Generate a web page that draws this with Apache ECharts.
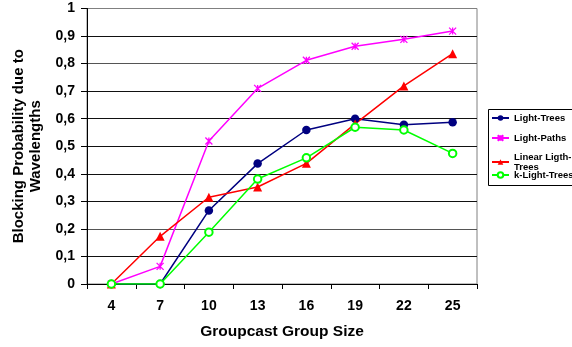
<!DOCTYPE html>
<html>
<head>
<meta charset="utf-8">
<script src="https://cdn.jsdelivr.net/npm/echarts@6/dist/echarts.min.js"></script>
<style>
  html, body { margin: 0; padding: 0; background: #fff; }
  #chart { width: 572px; height: 347px; }
</style>
</head>
<body>
<div id="chart"></div>
<script>
// Group sizes on the x axis
const groupSizes = ['4', '7', '10', '13', '16', '19', '22', '25'];

// Blocking probability per algorithm
const lightTrees = [0, 0, 0.267, 0.437, 0.559, 0.600, 0.578, 0.587];
const lightPaths = [0, 0.064, 0.519, 0.710, 0.812, 0.863, 0.888, 0.918];
const linearLightTrees = [0, 0.173, 0.315, 0.352, 0.438, 0.581, 0.719, 0.836];
const kLightTrees = [0, 0, 0.188, 0.381, 0.458, 0.569, 0.559, 0.474];

const FONT = '"Liberation Sans", Arial, sans-serif';
const starPath = 'path://M0,0L10,10M10,0L0,10M5,0L5,10';

const chart = echarts.init(document.getElementById('chart'), null, { renderer: 'canvas' });

const legendText = { fontFamily: FONT, fontWeight: 'bold', fontSize: 9.5, color: '#000', lineHeight: 10 };
const legendBase = {
  orient: 'vertical', left: 491, itemWidth: 17, itemHeight: 7, itemGap: 10,
  textStyle: legendText, selectedMode: false, padding: 0
};

chart.setOption({
  animation: false,
  backgroundColor: '#fff',
  grid: {
    left: 87, right: 95, top: 8.5, bottom: 63,
    outerBoundsMode: 'none',
    show: true, borderColor: '#808080', borderWidth: 1, backgroundColor: '#fff'
  },
  legend: [
    Object.assign({}, legendBase, { top: 113, data: ['Light-Trees', 'Light-Paths'] }),
    Object.assign({}, legendBase, {
      top: 147, data: ['Linear Ligth-Trees'],
      formatter: () => 'Linear Ligth-\nTrees',
      textStyle: Object.assign({}, legendText, { padding: [10, 0, 0, 0] })
    }),
    Object.assign({}, legendBase, { top: 170, data: ['k-Light-Trees'] })
  ],
  graphic: [{
    type: 'rect', left: 488, top: 109, z: 0,
    shape: { width: 90, height: 76 },
    style: { fill: '#fff', stroke: '#000', lineWidth: 1 }
  }],
  xAxis: {
    type: 'category',
    data: groupSizes,
    boundaryGap: true,
    name: 'Groupcast Group Size',
    nameLocation: 'middle',
    nameGap: 40,
    nameTextStyle: { fontFamily: FONT, fontWeight: 'bold', fontSize: 15.5, color: '#000' },
    axisLine: { lineStyle: { color: '#000', width: 1 } },
    axisTick: { show: true, length: 5, lineStyle: { color: '#000' } },
    axisLabel: { margin: 15, fontFamily: FONT, fontWeight: 'bold', fontSize: 14, color: '#000' },
    splitLine: { show: false }
  },
  yAxis: {
    type: 'value',
    min: 0, max: 1, interval: 0.1,
    name: 'Blocking Probability due to\nWavelengths',
    nameLocation: 'middle',
    nameRotate: 90,
    nameGap: 41,
    nameTextStyle: { fontFamily: FONT, fontWeight: 'bold', fontSize: 15, lineHeight: 17, color: '#000' },
    axisLine: { show: true, lineStyle: { color: '#000', width: 1 } },
    axisTick: { show: true, length: 6, inside: false, lineStyle: { color: '#000' } },
    axisLabel: {
      margin: 12, fontFamily: FONT, fontWeight: 'bold', fontSize: 14, color: '#000',
      formatter: v => String(+v.toFixed(1)).replace('.', ',')
    },
    splitLine: {
      show: true,
      lineStyle: { color: ['#000', '#111', '#555', '#111', '#111', '#111', '#111', '#111', '#555', '#111', '#808080'], width: 1 }
    }
  },
  series: [
    {
      name: 'Light-Trees', type: 'line', data: lightTrees,
      symbol: 'circle', symbolSize: 8.5,
      lineStyle: { color: '#000080', width: 1.5 },
      itemStyle: { color: '#000080' }
    },
    {
      name: 'Light-Paths', type: 'line', data: lightPaths,
      symbol: starPath, symbolSize: 7,
      lineStyle: { color: '#FF00FF', width: 1.5 },
      itemStyle: { color: '#FF00FF', borderColor: '#FF00FF', borderWidth: 1.3 }
    },
    {
      name: 'Linear Ligth-Trees', type: 'line', data: linearLightTrees,
      symbol: 'triangle', symbolSize: 9,
      lineStyle: { color: '#FF0000', width: 1.5 },
      itemStyle: { color: '#FF0000' }
    },
    {
      name: 'k-Light-Trees', type: 'line', data: kLightTrees,
      symbol: 'emptyCircle', symbolSize: 7.5,
      lineStyle: { color: '#00FF00', width: 1.5 },
      itemStyle: { color: '#00FF00', borderColor: '#00FF00', borderWidth: 1.3 }
    }
  ]
});
</script>
</body>
</html>
